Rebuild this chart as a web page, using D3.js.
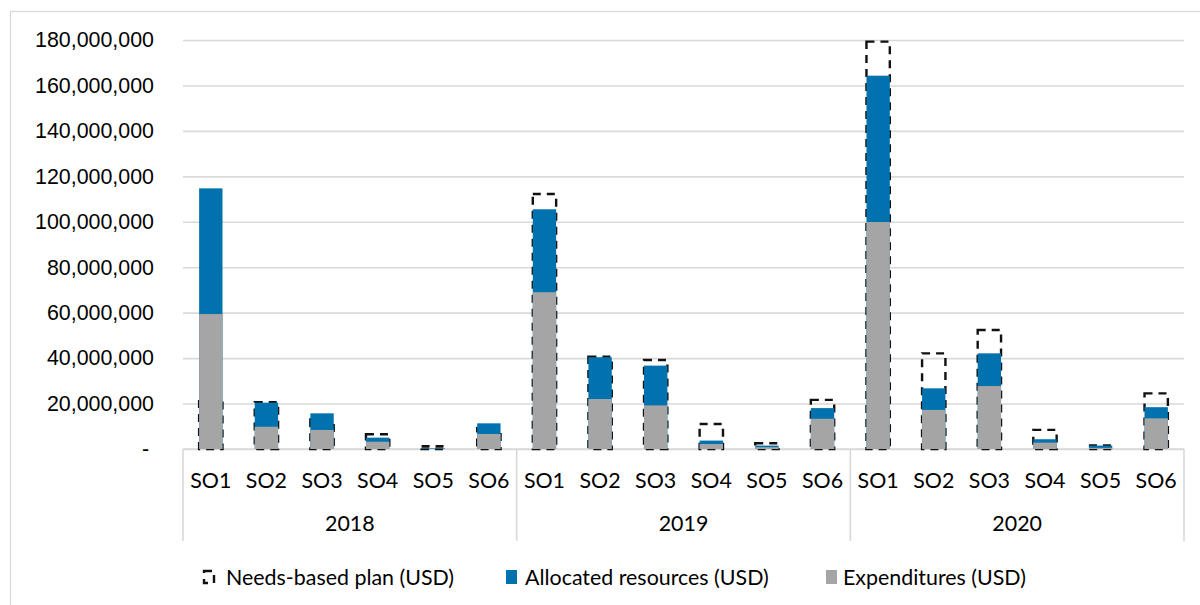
<!DOCTYPE html>
<html>
<head>
<meta charset="utf-8">
<script src="https://cdn.jsdelivr.net/npm/d3@7/dist/d3.min.js"></script>
<style>
  html, body { margin: 0; padding: 0; background: #fff; }
  svg { display: block; font-family: Lato, "Open Sans", sans-serif; }
</style>
</head>
<body>
<svg id="chart" width="1200" height="605"></svg>
<script>
// Strategic objectives and funding years
const years = ["2018", "2019", "2020"];
const objectives = ["SO1", "SO2", "SO3", "SO4", "SO5", "SO6"];

// Values in USD, one entry per objective (SO1..SO6) per year
const plan2018 = [23000000, 20600000, 13000000, 6500000, 1200000, 9100000];
const plan2019 = [112200000, 40600000, 39200000, 11000000, 2500000, 21600000];
const plan2020 = [179300000, 42100000, 52400000, 8400000, 1600000, 24500000];

const allocated2018 = [114700000, 20400000, 15700000, 5000000, 300000, 11300000];
const allocated2019 = [105500000, 40400000, 36700000, 3700000, 1500000, 18000000];
const allocated2020 = [164300000, 26700000, 42100000, 4300000, 1500000, 18400000];

const expenditures2018 = [59400000, 9800000, 8400000, 3200000, 100000, 6600000];
const expenditures2019 = [69000000, 22000000, 19200000, 2200000, 800000, 13300000];
const expenditures2020 = [99900000, 17200000, 27700000, 2800000, 500000, 13500000];

const yTicks = [0, 20000000, 40000000, 60000000, 80000000, 100000000, 120000000, 140000000, 160000000, 180000000];

const seriesNames = ["Needs-based plan (USD)", "Allocated resources (USD)", "Expenditures (USD)"];

// Flatten into rows for drawing
const planByYear = [plan2018, plan2019, plan2020];
const allocByYear = [allocated2018, allocated2019, allocated2020];
const expByYear = [expenditures2018, expenditures2019, expenditures2020];
const rows = [];
years.forEach((yr, yi) => {
  objectives.forEach((so, si) => {
    rows.push({
      key: yr + "-" + so, year: yr, so: so,
      plan: planByYear[yi][si],
      allocated: allocByYear[yi][si],
      expenditures: expByYear[yi][si]
    });
  });
});

const svg = d3.select("#chart");
const plot = { left: 183, right: 1184, top: 40, bottom: 449 };

const colors = { allocated: "#0172AD", expenditures: "#A5A5A5", grid: "#D9D9D9" };

// outer frame
svg.append("rect")
  .attr("x", 10.5).attr("y", 11.5)
  .attr("width", 1220).attr("height", 620)
  .attr("fill", "none").attr("stroke", "#D9D9D9").attr("stroke-width", 1.3);

const x = d3.scaleBand()
  .domain(rows.map(d => d.key))
  .range([plot.left, plot.right])
  .paddingInner(0.58)
  .paddingOuter(0.29);

const y = d3.scaleLinear()
  .domain([0, 180000000])
  .range([plot.bottom, plot.top]);

// y axis with gridlines
const fmt = d3.format(",");
const yAxis = d3.axisLeft(y)
  .tickValues(yTicks)
  .tickSize(-(plot.right - plot.left))
  .tickPadding(29)
  .tickFormat(d => d === 0 ? "-" : fmt(d));

const gy = svg.append("g")
  .attr("transform", `translate(${plot.left},0)`)
  .call(yAxis);
gy.select(".domain").remove();
gy.selectAll(".tick line")
  .attr("stroke", colors.grid).attr("stroke-width", 1.6);
gy.selectAll(".tick text")
  .attr("fill", "#000").attr("font-size", 21.4)
  .attr("dx", d => d === 0 ? -5 : 0);

// category axis: baseline and year separators
svg.append("line")
  .attr("x1", plot.left).attr("x2", plot.right)
  .attr("y1", plot.bottom).attr("y2", plot.bottom)
  .attr("stroke", colors.grid).attr("stroke-width", 1.6);

const yearBounds = years.map(yr => {
  const keys = rows.filter(r => r.year === yr).map(r => r.key);
  const start = x(keys[0]) - x.step() * x.paddingInner() / 2;
  const end = x(keys[keys.length - 1]) + x.bandwidth() + x.step() * x.paddingInner() / 2;
  return { year: yr, start, end };
});
const sepXs = [plot.left, ...yearBounds.map(b => b.end)];
svg.append("g").selectAll("line")
  .data(sepXs)
  .join("line")
  .attr("x1", d => d).attr("x2", d => d)
  .attr("y1", plot.bottom).attr("y2", 541)
  .attr("stroke", colors.grid).attr("stroke-width", 1.6);

// plan outline (behind)
svg.append("g").selectAll("rect")
  .data(rows)
  .join("rect")
  .attr("x", d => x(d.key))
  .attr("y", d => y(d.plan))
  .attr("width", x.bandwidth())
  .attr("height", d => y(0) - y(d.plan))
  .attr("fill", "none")
  .attr("stroke", "#111")
  .attr("stroke-width", 2.4)
  .attr("stroke-dasharray", "8,6");

// allocated resources
svg.append("g").selectAll("rect")
  .data(rows)
  .join("rect")
  .attr("x", d => x(d.key))
  .attr("y", d => y(d.allocated))
  .attr("width", x.bandwidth())
  .attr("height", d => y(0) - y(d.allocated))
  .attr("fill", colors.allocated);

// expenditures
svg.append("g").selectAll("rect")
  .data(rows)
  .join("rect")
  .attr("x", d => x(d.key))
  .attr("y", d => y(d.expenditures))
  .attr("width", x.bandwidth())
  .attr("height", d => y(0) - y(d.expenditures))
  .attr("fill", colors.expenditures);

// objective labels
svg.append("g").selectAll("text")
  .data(rows)
  .join("text")
  .attr("x", d => x(d.key) + x.bandwidth() / 2)
  .attr("y", 488)
  .attr("text-anchor", "middle")
  .attr("font-size", 21.4)
  .attr("fill", "#000")
  .text(d => d.so);

// year labels
svg.append("g").selectAll("text")
  .data(yearBounds)
  .join("text")
  .attr("x", d => (d.start + d.end) / 2)
  .attr("y", 531)
  .attr("text-anchor", "middle")
  .attr("font-size", 21.4)
  .attr("fill", "#000")
  .text(d => d.year);

// legend
const legendItems = [
  { name: seriesNames[0], sx: 204, tx: 226, kind: "plan" },
  { name: seriesNames[1], sx: 506, tx: 525, kind: "allocated" },
  { name: seriesNames[2], sx: 826, tx: 843, kind: "expenditures" }
];
const lg = svg.append("g").selectAll("g")
  .data(legendItems)
  .join("g");
lg.each(function(d) {
  const g = d3.select(this);
  if (d.kind === "plan") {
    g.append("rect")
      .attr("x", d.sx).attr("y", 571)
      .attr("width", 10).attr("height", 12)
      .attr("fill", "none").attr("stroke", "#111")
      .attr("stroke-width", 2.4).attr("stroke-dasharray", "8,6");
  } else {
    g.append("rect")
      .attr("x", d.sx).attr("y", 570)
      .attr("width", 11).attr("height", 14)
      .attr("fill", colors[d.kind]);
  }
  g.append("text")
    .attr("x", d.tx).attr("y", 585)
    .attr("font-size", 21.4)
    .attr("fill", "#000")
    .text(d.name);
});
</script>
</body>
</html>
